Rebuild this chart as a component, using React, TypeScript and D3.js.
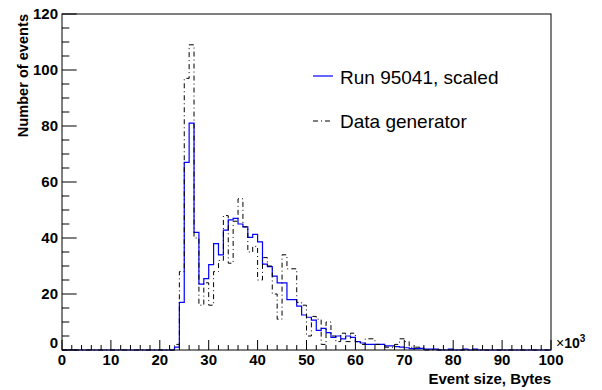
import React from "react";
import * as d3 from "d3";

// Bin contents, 1k-byte bins from 0 to 100 (x10^3 bytes)
const runScaled: number[] = [
  0, 0, 0, 0, 0, 0, 0, 0, 0, 0,
  0, 0, 0, 0, 0, 0, 0, 0, 0, 0,
  0, 0, 0, 1, 17, 67, 81, 42, 23.5, 25.5,
  30.5, 38, 34, 42.8, 46.5, 47, 45, 44, 40.2, 41.3,
  38.6, 30.7, 29.8, 26.4, 24, 24, 18, 18, 15.7, 12.5,
  11.7, 10.7, 7, 7.7, 6.2, 4.5, 5, 4, 5, 4.5,
  3, 2.5, 2, 2, 2, 2, 1.5, 1.5, 1.2, 1,
  0.8, 0.5, 0.5, 0.6, 0.3, 0.3, 0.3, 0, 0, 0.3,
  0, 0, 0.3, 0, 0.3, 0, 0, 0, 0, 0,
  0, 0, 0, 0, 0, 0, 0, 0, 0, 0,
];
const dataGenerator: number[] = [
  0, 0, 0, 0, 0, 0, 0, 0, 0, 0,
  0, 0, 0, 0, 0, 0, 0, 0, 0, 0,
  0, 0, 0, 2, 28, 97, 109, 40, 16, 24,
  16, 28, 32, 48, 31, 46, 54, 44, 35, 37,
  25, 33, 30, 20, 11, 34, 29, 29, 17, 16,
  5, 12, 11, 2, 10, 5, 3, 6, 3, 6,
  3, 2, 4, 4, 2, 2, 1, 1, 2, 4,
  3, 1, 1, 1, 0, 0, 0, 0, 0, 0,
  0, 0, 0, 0, 0, 0, 0, 0, 0, 0,
  0, 0, 0, 0, 0, 0, 0, 0, 0, 0,
];
const xTickLabels = ["0", "10", "20", "30", "40", "50", "60", "70", "80", "90", "100"];
const yTickLabels = ["0", "20", "40", "60", "80", "100", "120"];
const legendLabels = ["Run 95041, scaled", "Data generator"];
const xTitle = "Event size, Bytes";
const yTitle = "Number of events";

const W = 602;
const H = 390;
const FONT = "'Liberation Sans', Arial, Helvetica, sans-serif";

export default function App() {
  const x = d3.scaleLinear().domain([0, 100]).range([62, 551]);
  const y = d3.scaleLinear().domain([0, 120]).range([350, 14]);

  const stepLine = d3
    .line<[number, number]>()
    .x((d) => x(d[0]))
    .y((d) => y(d[1]))
    .curve(d3.curveStepAfter);

  const toPts = (vals: number[]): [number, number][] => {
    const pts: [number, number][] = vals.map((v, i) => [i, v]);
    pts.push([vals.length, vals[vals.length - 1]]);
    return pts;
  };

  const xMajor = x.ticks(10);
  const xMinor = d3.range(0, 101, 2).filter((v) => v % 10 !== 0);
  const yMajor = yTickLabels.map((t) => +t);
  const yMinor = d3.range(0, 121, 5).filter((v) => v % 20 !== 0);

  const [xl, xr] = x.range();
  const [yb, yt] = y.range();

  return (
    <svg
      width={W}
      height={H}
      style={{ position: "absolute", left: 0, top: 0, background: "#fff" }}
      fontFamily={FONT}
    >
      <rect x={0} y={0} width={W} height={H} fill="#fff" />
      {/* histograms */}
      <path d={stepLine(toPts(runScaled)) || ""} fill="none" stroke="#0000ff" strokeWidth={1.2} />
      <path
        d={stepLine(toPts(dataGenerator)) || ""}
        fill="none"
        stroke="#000"
        strokeWidth={1}
        strokeDasharray="5,3,1,3"
      />
      {/* frame */}
      <rect x={xl} y={yt} width={xr - xl} height={yb - yt} fill="none" stroke="#000" strokeWidth={1} />
      {/* x ticks */}
      {xMajor.map((v) => (
        <line key={"xM" + v} x1={x(v)} x2={x(v)} y1={yb} y2={yb - 10} stroke="#000" />
      ))}
      {xMinor.map((v) => (
        <line key={"xm" + v} x1={x(v)} x2={x(v)} y1={yb} y2={yb - 5} stroke="#000" />
      ))}
      {/* y ticks */}
      {yMajor.map((v) => (
        <line key={"yM" + v} x1={xl} x2={xl + 14.7} y1={y(v)} y2={y(v)} stroke="#000" />
      ))}
      {yMinor.map((v) => (
        <line key={"ym" + v} x1={xl} x2={xl + 7.3} y1={y(v)} y2={y(v)} stroke="#000" />
      ))}
      {/* x tick labels */}
      {xTickLabels.map((t) => (
        <text
          key={"xl" + t}
          x={x(+t)}
          y={365}
          textAnchor="middle"
          fontSize={15}
          fontWeight="bold"
        >
          {t}
        </text>
      ))}
      {/* y tick labels */}
      {yTickLabels.map((t) => (
        <text
          key={"yl" + t}
          x={58}
          y={y(+t) + (t === "0" ? -7 : 0)}
          dy="0.36em"
          textAnchor="end"
          fontSize={15}
          fontWeight="bold"
        >
          {t}
        </text>
      ))}
      {/* exponent */}
      <text x={556} y={348} fontSize={14} fontWeight="bold">
        <tspan fontWeight="normal">×</tspan>10
        <tspan dy={-6} fontSize={10}>3</tspan>
      </text>
      {/* axis titles */}
      <text x={xr} y={384} textAnchor="end" fontSize={15} fontWeight="bold">
        {xTitle}
      </text>
      <text
        transform={`translate(28, ${yt}) rotate(-90)`}
        textAnchor="end"
        fontSize={14.6}
        fontWeight="bold"
      >
        {yTitle}
      </text>
      {/* legend */}
      <line x1={313} x2={333} y1={76} y2={76} stroke="#0000ff" strokeWidth={1.2} />
      <text x={340} y={83.5} fontSize={19}>
        {legendLabels[0]}
      </text>
      <line x1={313} x2={333} y1={121} y2={121} stroke="#000" strokeDasharray="5,3,1,3" />
      <text x={340} y={128} fontSize={19}>
        {legendLabels[1]}
      </text>
    </svg>
  );
}
